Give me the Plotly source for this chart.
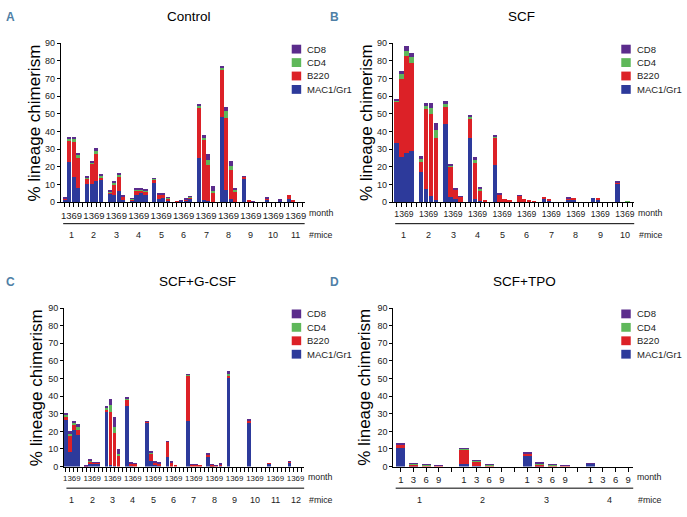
import plotly.graph_objects as go

W, H = 687, 517
SANS = "Liberation Sans, Arial, sans-serif"

MONTHS = ["1", "3", "6", "9"]
SERIES = ["MAC1/Gr1", "B220", "CD4", "CD8"]
COLORS = ["#2d3a9b", "#dc2127", "#5fb85a", "#5b2c8c"]

# ---- Panel A: Control (11 mice x months 1,3,6,9), segment values (%)
ctrl_mac1 = [1.5, 23, 14, 8, 10, 10, 12, 12.5, 4.5, 4, 6.5, 1, 1, 4, 5, 4, 11, 2, 2.3, 1,
             0.1, 0.5, 1, 2, 25, 1, 0.5, 0.3, 48, 7, 2, 0.3, 13.5, 0, 0, 0, 1.5, 0, 0, 0.5, 1.5, 0, 0, 0]
ctrl_b220 = [0.5, 12, 20, 17, 3.5, 11.5, 15.5, 1, 1, 6, 8, 2, 0.5, 2.5, 1.5, 2, 1.5, 2, 1.9, 1,
             0.2, 0.3, 0.5, 0.7, 28.5, 34, 20.5, 5.2, 27, 40.5, 16, 5.7, 0.7, 0.5, 0.2, 0, 0.5, 0, 0, 0, 2.5, 1.2, 0, 0]
ctrl_cd4 = [0, 1, 2, 1.5, 0.5, 1, 1.5, 1.5, 0.5, 1, 1, 0.3, 0.3, 0.5, 0.5, 0.5, 0.5, 0.3, 0.2, 0.2,
            0, 0.1, 0, 0.1, 1, 1.5, 3, 1, 1, 4, 2.5, 1, 0, 0, 0, 0, 0, 0, 0, 0, 0, 0, 0, 0]
ctrl_cd8 = [0.2, 0.5, 1, 1.5, 0.5, 0.5, 1.5, 1, 0.5, 1, 1, 0.2, 0.2, 0.8, 0.5, 0.5, 0.5, 0.3, 0.4, 0.1,
            0, 0.1, 0.2, 0.2, 0.5, 1.5, 3, 2.5, 1, 2.5, 3, 1, 0.3, 0, 0.1, 0, 0.2, 0, 0, 0.7, 0, 0, 0, 0]

# ---- Panel B: SCF (10 mice)
scf_mac1 = [33.5, 25.5, 28, 29, 17, 7.5, 3.5, 1, 44.5, 3, 1.5, 0, 36.5, 2, 0.5, 0, 21, 0.2, 0, 0,
            0, 0.3, 0, 0, 1.7, 1, 0, 0, 1.5, 1.5, 0, 0, 2.2, 1, 0, 0, 10.5, 0, 0, 0]
scf_b220 = [23.5, 44.5, 54.5, 50, 6, 45, 46.5, 35.5, 9.5, 17, 5.5, 3.2, 11, 20, 6, 0.5, 15.5, 4.1, 1.5, 0.8,
            3.7, 1.2, 0.7, 0.4, 0.6, 0.3, 0, 0, 0.5, 0.7, 0, 0, 0, 1.5, 0, 0, 0.5, 0, 0, 0]
scf_cd4 = [0.5, 2.5, 3, 3, 1.5, 2, 3.5, 4.5, 2, 0.5, 0, 0, 1, 2, 0.8, 0, 0.5, 0.1, 0, 0,
           0, 0, 0, 0, 0, 0, 0, 0, 0, 0, 0, 0, 0, 0, 0, 0, 0, 0, 0.3, 0]
scf_cd8 = [0.5, 1.5, 3, 2.5, 1.5, 1.5, 2.5, 4, 1, 0.5, 0.3, 0.1, 1, 1.5, 0.7, 0, 0.5, 0.1, 0, 0,
           0.1, 0, 0, 0, 0, 0, 0, 0, 0.2, 0, 0, 0, 0, 0, 0, 0, 0.8, 0, 0, 0]

# ---- Panel C: SCF+G-CSF (12 mice)
gcsf_mac1 = [26.5, 8.5, 21, 18, 0, 1.5, 1.5, 1.5, 31.5, 1, 0.5, 0, 34.5, 0.3, 0, 0, 25, 3, 1, 0.5,
             5.5, 0, 0, 0, 26, 0, 0, 0, 5.5, 0.3, 0, 0.5, 50.5, 0, 0, 0, 25, 0, 0, 0, 1.5, 0, 0, 0, 2.3, 0, 0, 0]
gcsf_b220 = [2, 9, 2.5, 3, 0.3, 1.5, 0.7, 0.8, 1, 30, 18.5, 6, 3.5, 1.7, 1.5, 0, 0.3, 4.5, 1.5, 1,
             8.5, 2.5, 0.8, 0, 25.5, 1, 1, 0.5, 1.5, 0.9, 0.6, 0.5, 0.8, 0, 0, 0, 1, 0, 0, 0, 0.5, 0, 0, 0, 0.3, 0, 0, 0]
gcsf_cd4 = [1, 1.5, 1.5, 1.5, 0, 0.3, 0, 0, 1, 4, 3.5, 1.3, 0.8, 0, 0, 0, 0, 0.7, 0, 0.5,
            0, 0, 0, 0, 0.5, 0, 0, 0, 0, 0, 0, 0, 1.2, 0, 0, 0, 0, 0, 0, 0, 0, 0, 0, 0, 0, 0, 0, 0]
gcsf_cd8 = [1, 1, 1, 1.5, 0.3, 0.7, 0.2, 0.2, 0.5, 3.5, 5.5, 2.5, 0.5, 0.3, 0.1, 0, 0.4, 0.8, 0.2, 0.1,
            0.5, 0.1, 0, 0, 0.5, 0.1, 0.1, 0, 0.3, 0.1, 0.1, 1.3, 1.5, 0, 0, 0, 0.8, 0, 0, 0, 0, 0, 0, 0, 0.2, 0, 0, 0]

# ---- Panel D: SCF+TPO (4 mice)
tpo_mac1 = [10.3, 0.2, 0, 0, 1.5, 0.2, 0, 0, 6, 0.3, 0, 0, 1.5, 0, 0, 0]
tpo_b220 = [2, 1.1, 0.7, 0.5, 8.3, 2.6, 0.8, 0, 1.5, 0.9, 0.7, 0.4, 0, 0, 0, 0]
tpo_cd4 = [0.3, 0.3, 0.2, 0.1, 0.2, 0.5, 0.3, 0, 0.1, 0.6, 0.2, 0.1, 0, 0, 0, 0]
tpo_cd8 = [0.3, 0.2, 0.1, 0.2, 0.2, 0.3, 0.2, 0, 0.2, 0.5, 0.4, 0.2, 0.3, 0, 0, 0]

panels = [
    dict(letter="A", title="Control", data=[ctrl_mac1, ctrl_b220, ctrl_cd4, ctrl_cd8],
         px0=60, px1=305, top=39, bot=201, lo=-0.9, hi=53.5, bw=0.9, compact=True, mfont=9.5,
         letter_x=10, title_x=189, ytitle_x=34, leg_x=292),
    dict(letter="B", title="SCF", data=[scf_mac1, scf_b220, scf_cd4, scf_cd8],
         px0=393.5, px1=636, top=39, bot=201, lo=-0.77, hi=48.4, bw=0.9, compact=True, mfont=8.6,
         letter_x=335, title_x=523, ytitle_x=367, leg_x=623),
    dict(letter="C", title="SCF+G-CSF", data=[gcsf_mac1, gcsf_b220, gcsf_cd4, gcsf_cd8],
         px0=63.3, px1=304.5, top=309, bot=470.7, lo=-0.42, hi=58.6, bw=0.9, compact=True, mfont=7.9,
         letter_x=10, title_x=197, ytitle_x=35, leg_x=292),
    dict(letter="D", title="SCF+TPO", data=[tpo_mac1, tpo_b220, tpo_cd4, tpo_cd8],
         px0=394, px1=635, top=309, bot=470.7, lo=-0.6, hi=18.4, bw=0.72, compact=False, mfont=9.5,
         letter_x=335, title_x=526, ytitle_x=365, leg_x=623),
]

fig = go.Figure()
annotations = []
shapes = []

for k, p in enumerate(panels):
    n = k + 1
    xa = "x" if n == 1 else f"x{n}"
    ya = "y" if n == 1 else f"y{n}"
    xname = "xaxis" if n == 1 else f"xaxis{n}"
    yname = "yaxis" if n == 1 else f"yaxis{n}"
    nvals = len(p["data"][0])
    nmice = nvals // len(MONTHS)
    xs = [(i // 4) * 5 + (i % 4) for i in range(nvals)]
    for s, name in enumerate(SERIES):
        fig.add_trace(go.Bar(x=xs, y=p["data"][s], name=name, width=p["bw"],
                             marker=dict(color=COLORS[s], line=dict(width=0)),
                             xaxis=xa, yaxis=ya, showlegend=False))

    if p["compact"]:
        tickvals = [g * 5 + 1.5 for g in range(nmice)]
        ticktext = ["".join(MONTHS)] * nmice
    else:
        tickvals = xs
        ticktext = [MONTHS[i % 4] for i in range(nvals)]

    y0 = 1 - p["bot"] / H
    y1 = 1 - p["top"] / H
    fig.layout[xname] = dict(
        domain=[p["px0"] / W, p["px1"] / W], anchor=ya, range=[p["lo"], p["hi"]],
        showline=True, linecolor="black", linewidth=1, showgrid=False, zeroline=False,
        tickmode="array", tickvals=tickvals, ticktext=ticktext, tickangle=0,
        ticks="outside", ticklen=4, tickcolor="rgba(0,0,0,0)",
        tickfont=dict(family=SANS, size=p["mfont"], color="#222"),
        minor=dict(dtick=1, tick0=0, ticks="outside", ticklen=4, tickcolor="black", tickwidth=1),
    )
    fig.layout[yname] = dict(
        domain=[y0, y1], anchor=xa, range=[0, 90], dtick=10, tick0=0,
        showline=True, linecolor="black", linewidth=1, showgrid=False, zeroline=False,
        ticks="outside", ticklen=3, tickcolor="black",
        tickfont=dict(family=SANS, size=9, color="#222"),
    )

    # panel letter and title
    head_y = 1 - (p["top"] - 27) / H
    annotations.append(dict(text=f"<b>{p['letter']}</b>", x=p["letter_x"] / W, y=head_y,
                            xref="paper", yref="paper", showarrow=False, xanchor="center", yanchor="middle",
                            font=dict(family=SANS, size=12, color="#4f7fa6")))
    annotations.append(dict(text=p["title"], x=p["title_x"] / W, y=head_y,
                            xref="paper", yref="paper", showarrow=False, xanchor="center", yanchor="middle",
                            font=dict(family=SANS, size=13.5, color="black")))
    annotations.append(dict(text="% lineage chimerism", textangle=-90, x=p["ytitle_x"] / W,
                            y=1 - (p["top"] + p["bot"]) / 2 / H, xref="paper", yref="paper",
                            showarrow=False, xanchor="center", yanchor="middle",
                            font=dict(family=SANS, size=17, color="black")))

    # month / #mice
    month_y = p["bot"] + 11
    line_y = p["bot"] + 22
    mice_y = p["bot"] + 34
    annotations.append(dict(text="month", x=1.008, xref=f"{xa} domain", y=1 - month_y / H, yref="paper",
                            showarrow=False, xanchor="left", yanchor="middle",
                            font=dict(family=SANS, size=8.8, color="#222")))
    annotations.append(dict(text="#mice", x=1.01, xref=f"{xa} domain", y=1 - mice_y / H, yref="paper",
                            showarrow=False, xanchor="left", yanchor="middle",
                            font=dict(family=SANS, size=8.8, color="#222")))
    for g in range(nmice):
        annotations.append(dict(text=str(g + 1), x=g * 5 + 1.5, xref=xa, y=1 - mice_y / H, yref="paper",
                                showarrow=False, xanchor="center", yanchor="middle",
                                font=dict(family=SANS, size=9, color="#222")))
    shapes.append(dict(type="line", xref=f"{xa} domain", x0=0.01, x1=1.0, yref="paper",
                       y0=1 - line_y / H, y1=1 - line_y / H, line=dict(color="black", width=1)))

    # legend (manual, CD8 at top)
    for j, s in enumerate(reversed(range(len(SERIES)))):
        cy = p["top"] + 6 + j * 13.7
        shapes.append(dict(type="rect", xref="paper", yref="paper",
                           x0=p["leg_x"] / W, x1=(p["leg_x"] + 9.5) / W,
                           y0=1 - (cy + 4.5) / H, y1=1 - (cy - 4.5) / H,
                           fillcolor=COLORS[s], line=dict(width=0)))
        annotations.append(dict(text=SERIES[s], x=(p["leg_x"] + 13.5) / W, y=1 - cy / H,
                                xref="paper", yref="paper", showarrow=False,
                                xanchor="left", yanchor="middle",
                                font=dict(family=SANS, size=9.5, color="#222")))

fig.update_layout(
    width=W, height=H, margin=dict(l=0, r=0, t=0, b=0),
    paper_bgcolor="white", plot_bgcolor="white",
    barmode="stack", showlegend=False,
    annotations=annotations, shapes=shapes,
)

fig.write_html("out.html", config={"displayModeBar": False},
               post_script="document.body.style.margin='0';document.body.style.padding='0';")
